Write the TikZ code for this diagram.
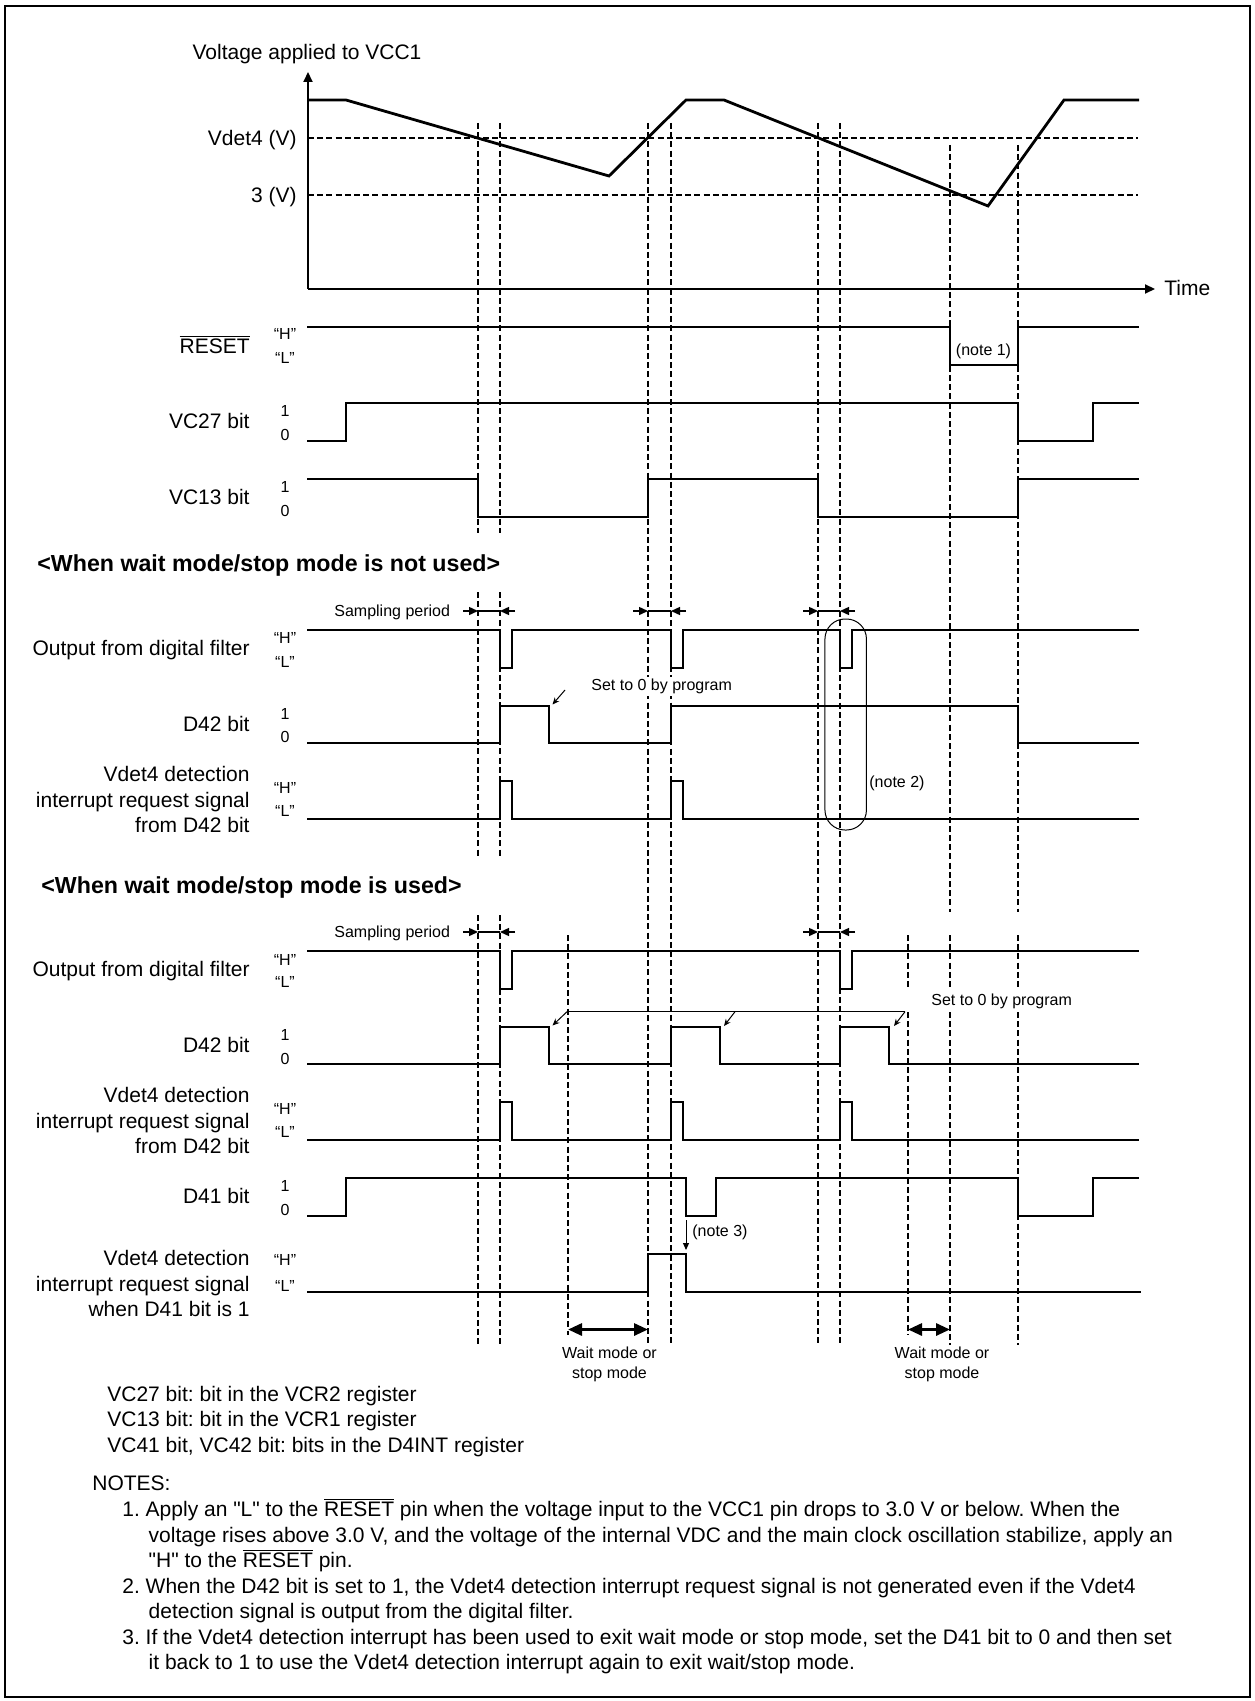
\documentclass[tikz,border=0pt]{standalone}
\usepackage{fontspec}
\setmainfont{Liberation Sans}[Ligatures=TeXOff]
\usetikzlibrary{arrows.meta}
\newcommand{\ovl}[1]{\ensuremath{\overline{\mbox{#1}}}}
\frenchspacing
\begin{document}
\begin{tikzpicture}[x=0.5pt,y=-0.5pt,
  sig/.style={line width=1pt, line join=miter},
  volt/.style={line width=1.4pt, line join=miter},
  dline/.style={line width=0.6pt, dash pattern=on 3pt off 1.6pt},
  thinl/.style={line width=0.5pt},
  axis/.style={line width=1pt, -{Triangle[length=5pt,width=4.5pt]}},
  samp/.style={line width=0.7pt, -{Triangle[length=4.5pt,width=4pt]}},
  setarr/.style={line width=0.5pt, -{Stealth[length=3.5pt,width=3pt]}},
  waitarr/.style={line width=1.5pt, {Triangle[length=7pt,width=6pt]}-{Triangle[length=7pt,width=6pt]}},
  lbl/.style={font=\fontsize{10.5}{12.6}\selectfont, inner sep=0pt, text height=7.5pt, text depth=0pt},
  sm/.style={font=\fontsize{8}{9.6}\selectfont, inner sep=0pt, text height=5.7pt, text depth=0pt},
  hd/.style={font=\fontsize{11.6}{14}\selectfont\bfseries, inner sep=0pt, text height=8.3pt, text depth=0pt}]

\useasboundingbox (0,0) rectangle (1254,1701);
\draw[line width=1.3pt] (5,6) rectangle (1250,1697);

% ---------- vertical dashed guide lines ----------
\foreach \x in {478,500}{
  \draw[dline] (\x,123) -- (\x,533);
  \draw[dline] (\x,592) -- (\x,857);
  \draw[dline] (\x,915) -- (\x,1345);}
\foreach \x in {648,671,818,840}{
  \draw[dline] (\x,123) -- (\x,1345);}
\foreach \x in {950,1018}{
  \draw[dline] (\x,145) -- (\x,912);
  \draw[dline] (\x,935) -- (\x,990);
  \draw[dline] (\x,1012) -- (\x,1345);}
\draw[dline] (568,935) -- (568,1335);
\draw[dline] (908,935) -- (908,988);
\draw[dline] (908,1012) -- (908,1335);

% ---------- voltage graph ----------
\node[lbl] (vlabel) at (307,52) {Voltage applied to VCC1};
\coordinate (org) at (308,289);
\coordinate (ytop) at (308,72);
\coordinate (xend) at (1155,289);
\draw[axis] (org) -- (ytop);
\draw[axis] (org) -- (xend);
\node[lbl, anchor=west] (time) at (1164,288) {Time};
\draw[dline] (308,138) -- (1138,138);
\draw[dline] (308,195) -- (1138,195);
\node[lbl, anchor=east] (vdet) at (297,138) {Vdet4 (V)};
\node[lbl, anchor=east] (v3) at (297,195) {3 (V)};
\draw[volt] (308,100) -- (346,100) -- (609,176) -- (686,100) -- (724,100)
  -- (988,206) -- (1064,100) -- (1139,100);

% ---------- signal names ----------
\node[lbl, anchor=east] (nreset) at (250,346) {\ovl{RESET}};
\node[lbl, anchor=east] (nvc27) at (250,421) {VC27 bit};
\node[lbl, anchor=east] (nvc13) at (250,497) {VC13 bit};
\node[lbl, anchor=east] (ndf1) at (250,648) {Output from digital filter};
\node[lbl, anchor=east] (nd42a) at (250,724) {D42 bit};
\node[lbl, anchor=east] (ni1a) at (250,774) {Vdet4 detection};
\node[lbl, anchor=east] (ni1b) at (250,800) {interrupt request signal};
\node[lbl, anchor=east] (ni1c) at (250,825) {from D42 bit};
\node[lbl, anchor=east] (ndf2) at (250,969) {Output from digital filter};
\node[lbl, anchor=east] (nd42b) at (250,1045) {D42 bit};
\node[lbl, anchor=east] (ni2a) at (250,1095) {Vdet4 detection};
\node[lbl, anchor=east] (ni2b) at (250,1121) {interrupt request signal};
\node[lbl, anchor=east] (ni2c) at (250,1146) {from D42 bit};
\node[lbl, anchor=east] (nd41) at (250,1196) {D41 bit};
\node[lbl, anchor=east] (ni3a) at (250,1258) {Vdet4 detection};
\node[lbl, anchor=east] (ni3b) at (250,1284) {interrupt request signal};
\node[lbl, anchor=east] (ni3c) at (250,1309) {when D41 bit is 1};

% ---------- level labels ----------
\foreach \n/\t/\y in {r1/“H”/334, r0/“L”/358, a1/1/411, a0/0/435, b1/1/487, b0/0/511,
  c1/“H”/638, c0/“L”/662, d1/1/714, d0/0/737, e1/“H”/788, e0/“L”/811,
  f1/“H”/960, f0/“L”/982, g1/1/1035, g0/0/1059, h1/“H”/1109, h0/“L”/1132,
  i1/1/1186, i0/0/1210, j1/“H”/1260, j0/“L”/1286}{
  \node[sm] (lv\n) at (285,\y) {\t};}

% ---------- headings ----------
\node[hd, anchor=west] (head1) at (37,563) {<When wait mode/stop mode is not used>};
\node[hd, anchor=west] (head2) at (41,885) {<When wait mode/stop mode is used>};

% ---------- waveforms ----------
\draw[sig] (307,327) -- (950,327) -- (950,365) -- (1018,365) -- (1018,327) -- (1139,327);
\node[sm] (note1) at (983.5,350) {(note 1)};
\draw[sig] (307,441) -- (346,441) -- (346,403) -- (1018,403) -- (1018,441) -- (1093,441) -- (1093,403) -- (1139,403);
\draw[sig] (307,479) -- (478,479) -- (478,517) -- (648,517) -- (648,479) -- (818,479) -- (818,517) -- (1018,517) -- (1018,479) -- (1139,479);

% not used
\draw[sig] (307,630) -- (500,630) -- (500,668) -- (512,668) -- (512,630) -- (671,630) -- (671,668) -- (683,668) -- (683,630)
  -- (840,630) -- (840,668) -- (852,668) -- (852,630) -- (1139,630);
\draw[sig] (307,743) -- (500,743) -- (500,706) -- (549,706) -- (549,743) -- (671,743) -- (671,706) -- (1018,706) -- (1018,743) -- (1139,743);
\draw[sig] (307,819) -- (500,819) -- (500,781) -- (512,781) -- (512,819) -- (671,819) -- (671,781) -- (683,781) -- (683,819) -- (1139,819);

% used
\draw[sig] (307,951) -- (500,951) -- (500,989) -- (512,989) -- (512,951) -- (840,951) -- (840,989) -- (852,989) -- (852,951) -- (1139,951);
\draw[sig] (307,1064) -- (500,1064) -- (500,1027) -- (549,1027) -- (549,1064) -- (671,1064) -- (671,1027) -- (720,1027) -- (720,1064)
  -- (840,1064) -- (840,1027) -- (889,1027) -- (889,1064) -- (1139,1064);
\draw[sig] (307,1140) -- (500,1140) -- (500,1102) -- (512,1102) -- (512,1140) -- (671,1140) -- (671,1102) -- (683,1102) -- (683,1140)
  -- (840,1140) -- (840,1102) -- (852,1102) -- (852,1140) -- (1139,1140);
\draw[sig] (307,1216) -- (346,1216) -- (346,1178) -- (686,1178) -- (686,1216) -- (716,1216) -- (716,1178) -- (1018,1178) -- (1018,1216)
  -- (1093,1216) -- (1093,1178) -- (1139,1178);
\draw[sig] (307,1292) -- (648,1292) -- (648,1254) -- (686,1254) -- (686,1292) -- (1141,1292);

% ---------- sampling period arrows ----------
\node[sm, anchor=west] (samp1) at (334,611) {Sampling period};
\node[sm, anchor=west] (samp2) at (334,932) {Sampling period};
\foreach \a/\b/\y in {478/500/611, 648/671/611, 818/840/611, 478/500/932, 818/840/932}{
  \draw[samp] (\a-15,\y) -- (\a,\y);
  \draw[line width=0.7pt] (\a,\y) -- (\b,\y);
  \draw[samp] (\b+15,\y) -- (\b,\y);}

% ---------- set to 0 by program (not used) ----------
\node[sm, anchor=west, fill=white, inner sep=1pt, text depth=1.7pt] (set1) at (589,686.5) {Set to 0 by program};
\coordinate (s1a) at (565,690);
\coordinate (s1b) at (552.5,704.5);
\draw[setarr] (s1a) -- (s1b);

% note 2
\node[draw, thinl, rounded corners=10pt, minimum width=20.75pt, minimum height=105.5pt, inner sep=0pt] (n2box) at (845.7,724.5) {};
\node[sm, anchor=west] (note2) at (869,782) {(note 2)};

% ---------- set to 0 by program (used) ----------
\node[sm, anchor=west] (set2) at (931,1000) {Set to 0 by program};
\coordinate (br0) at (567,1011.7);
\coordinate (br1) at (735,1011.7);
\coordinate (br2) at (905,1011.7);
\coordinate (t0) at (552.5,1025.5);
\coordinate (t1) at (724,1026);
\coordinate (t2) at (894,1026);
\draw[thinl] (br0) -- (br2);
\draw[setarr] (br0) -- (t0);
\draw[setarr] (br1) -- (t1);
\draw[setarr] (br2) -- (t2);

% note 3
\coordinate (n3a) at (686,1220);
\coordinate (n3b) at (686,1250);
\draw[line width=0.5pt, -{Triangle[length=3.5pt,width=3pt]}] (n3a) -- (n3b);
\node[sm, anchor=west] (note3) at (692,1231) {(note 3)};

% ---------- wait mode arrows ----------
\coordinate (wa) at (568,1329.5);
\coordinate (wb) at (648,1329.5);
\coordinate (wc) at (908,1329.5);
\coordinate (wd) at (950,1329.5);
\draw[waitarr] (wa) -- (wb);
\draw[waitarr] (wc) -- (wd);
\node[sm] (wl1) at (609.5,1353) {Wait mode or};
\node[sm] (wl2) at (609.5,1373) {stop mode};
\node[sm] (wr1) at (942,1353) {Wait mode or};
\node[sm] (wr2) at (942,1373) {stop mode};

% ---------- register list & notes ----------
\node[lbl, anchor=west] (reg1) at (107,1394) {VC27 bit: bit in the VCR2 register};
\node[lbl, anchor=west] (reg2) at (107,1419) {VC13 bit: bit in the VCR1 register};
\node[lbl, anchor=west] (reg3) at (107,1445) {VC41 bit, VC42 bit: bits in the D4INT register};
\node[lbl, anchor=west] (notes) at (92,1483) {NOTES:};
\node[lbl, anchor=west] (nt1a) at (122,1509.3) {1. Apply an "L" to the \ovl{RESET} pin when the voltage input to the VCC1 pin drops to 3.0 V or below. When the};
\node[lbl, anchor=west] (nt1b) at (148.3,1535) {voltage rises above 3.0 V, and the voltage of the internal VDC and the main clock oscillation stabilize, apply an};
\node[lbl, anchor=west] (nt1c) at (148.3,1560) {"H" to the \ovl{RESET} pin.};
\node[lbl, anchor=west] (nt2a) at (122,1586) {2. When the D42 bit is set to 1, the Vdet4 detection interrupt request signal is not generated even if the Vdet4};
\node[lbl, anchor=west] (nt2b) at (148.3,1610.7) {detection signal is output from the digital filter.};
\node[lbl, anchor=west] (nt3a) at (122,1636.7) {3. If the Vdet4 detection interrupt has been used to exit wait mode or stop mode, set the D41 bit to 0 and then set};
\node[lbl, anchor=west] (nt3b) at (148.3,1661.7) {it back to 1 to use the Vdet4 detection interrupt again to exit wait/stop mode.};
\end{tikzpicture}
\end{document}
